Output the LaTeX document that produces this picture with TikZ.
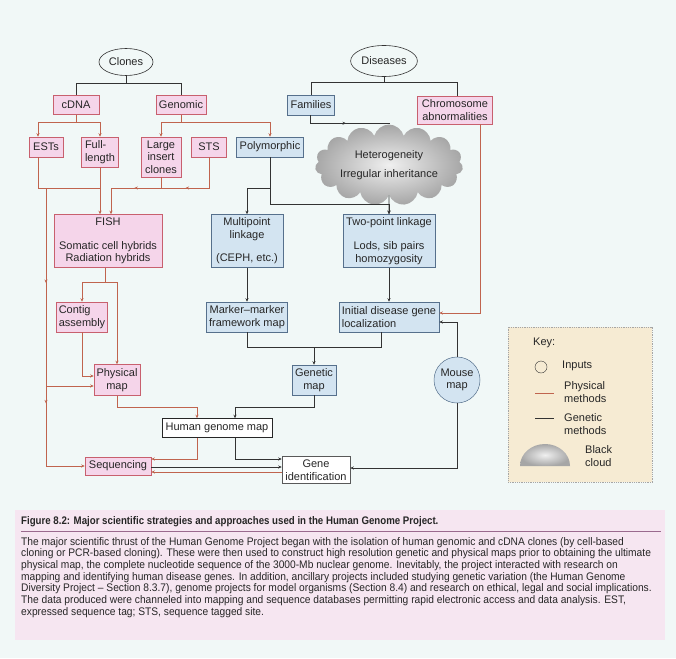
\documentclass[tikz,border=0pt]{standalone}
\usepackage{fontspec}
\setmainfont{Liberation Sans}
\newfontfamily\capfont[FakeStretch=0.93]{Liberation Sans}
\newfontfamily\capttlfont[FakeStretch=0.88]{Liberation Sans}
\usetikzlibrary{arrows.meta,shapes.geometric,shapes.symbols,decorations.markings,calc}
\definecolor{bgcol}{HTML}{F1F8F7}
\definecolor{physfill}{HTML}{F5D5EA}
\definecolor{physdraw}{HTML}{C8606E}
\definecolor{genfill}{HTML}{D3E4F1}
\definecolor{gendraw}{HTML}{56708C}
\definecolor{physred}{HTML}{C0644E}
\definecolor{keyfill}{HTML}{F6EBD3}
\definecolor{capfill}{HTML}{F6E6F1}
\definecolor{caprule}{HTML}{9A6A8E}

\begin{document}
\begin{tikzpicture}[
        x=1pt, y=-1pt,
        >={Stealth[length=3.5pt,width=3pt]},
        every node/.style={font=\fontsize{11}{12.5}\selectfont, text=black!85, inner sep=1pt, align=center},
        physbox/.style={rectangle, draw=physdraw, fill=physfill, line width=0.5pt},
        genbox/.style={rectangle, draw=gendraw, fill=genfill, line width=0.5pt},
        plainbox/.style={rectangle, draw=black!65, fill=white, line width=0.5pt},
        inputnode/.style={ellipse, draw=black!80, line width=0.6pt},
        physline/.style={color=physred, line width=0.6pt},
        genline/.style={color=black!80, line width=0.6pt},
        midarrow/.style={postaction={decorate, decoration={markings, mark=at position #1 with {\arrow{>}}}}}
      ]
      \fill[bgcol] (0,0) rectangle (676,658);
      \useasboundingbox (0,0) rectangle (676,658);

      \node[inputnode, minimum width=54, minimum height=27] (clones) at (126,62) {Clones};
      \node[inputnode, minimum width=60, minimum height=31] (diseases) at (384,61) {Diseases};
      \node[physbox, minimum width=46, minimum height=19] (cdna) at (76,105) {cDNA};
      \node[physbox, minimum width=50, minimum height=19] (genomic) at (181,105) {Genomic};
      \node[genbox, minimum width=47, minimum height=20] (families) at (311,105) {Families};
      \node[physbox, minimum width=75, minimum height=28] (chromo) at (455,110) {Chromosome\\abnormalities};
      \node[physbox, minimum width=34, minimum height=20] (ests) at (46,147) {ESTs};
      \node[physbox, minimum width=37, minimum height=30, align=left] (fulllen) at (100,152) {Full-\\length};
      \node[physbox, minimum width=40, minimum height=40] (large) at (161,157) {Large\\insert\\clones};
      \node[physbox, minimum width=35, minimum height=20] (sts) at (209,147) {STS};
      \node[genbox, minimum width=67, minimum height=20] (poly) at (270,147) {Polymorphic};
      \node[cloud, cloud puffs=15, aspect=2.3, inner sep=0pt, shading=radial, inner color=gray!12,
        outer color=gray!70, minimum width=148, minimum height=62] (hetcloud) at (389,165)
        {Heterogeneity\\[7pt]Irregular inheritance};
      \node[physbox, minimum width=108, minimum height=53] (fish) at (108,241)
        {FISH\\[11pt]Somatic cell hybrids\\Radiation hybrids};
      \node[genbox, minimum width=72, minimum height=53] (multi) at (247,241)
        {Multipoint\\linkage\\[11pt](CEPH, etc.)};
      \node[genbox, minimum width=92, minimum height=53] (twopt) at (389,241)
        {Two-point linkage\\[12pt]Lods, sib pairs\\homozygosity};
      \node[physbox, minimum width=51, minimum height=30, align=left] (contig) at (82,317) {Contig\\assembly};
      \node[genbox, minimum width=81, minimum height=30] (marker) at (247,317) {Marker–marker\\framework map};
      \node[genbox, minimum width=100, minimum height=30, align=left] (initial) at (389,317)
        {Initial disease gene\\localization};
      \node[physbox, minimum width=46, minimum height=31] (physmap) at (117,380) {Physical\\map};
      \node[genbox, minimum width=44, minimum height=30] (genmap) at (314,380) {Genetic\\map};
      \node[genbox, circle, minimum size=46] (mouse) at (457,380) {Mouse\\map};
      \node[plainbox, draw=black!85, minimum width=110, minimum height=19] (hgm) at (217,428) {Human genome map};
      \node[physbox, minimum width=66, minimum height=18] (seq) at (118,466) {Sequencing};
      \node[plainbox, minimum width=68, minimum height=27] (geneid) at (316,470) {Gene\\identification};

      \coordinate (rowa) at (0,188);
      \coordinate (fishin) at ($(fish.north)+(3,0)$);
      \coordinate (pmin) at ($(physmap.west)+(0,6)$);

      \draw[genline] (clones.south) -- ++(0,8) coordinate (clj) -| (cdna.north);
      \draw[genline] (clj) -| (genomic.north);
      \draw[genline] (diseases.south) -- ++(0,6) coordinate (dsj) -| (families.north);
      \draw[genline] (dsj) -| ([xshift=2pt]chromo.north);
      \draw[physline,->] (cdna.south) -- ++(0,8) coordinate (cdj) -| ([xshift=-8pt]ests.north);
      \draw[physline,->] (cdj) -| (fulllen.north);
      \draw[physline,->] (genomic.south) -- ++(0,8) coordinate (gnj) -| (large.north);
      \draw[physline,->] (gnj) -| (poly.north);
      \draw[genline, midarrow=0.5] ([xshift=-1pt]families.south) -- ++(0,8) -| (hetcloud.north);
      \draw[genline,->] (hetcloud.south) -- (twopt.north);
      \draw[genline,->] (poly.south) -- coordinate[pos=0.66] (plj) ++(0,47) -| (twopt.north);
      \draw[genline,->] (plj) -| (multi.north);
      \draw[genline,->] (multi.south) -- (marker.north);
      \draw[genline,->] (twopt.south) -- (initial.north);
      \draw[genline] (marker.south) -- ++(0,15) coordinate (mkj) -| ([xshift=-8pt]initial.south);
      \draw[genline,->] (mkj -| genmap.north) -- (genmap.north);
      \draw[genline,->] (genmap.south) -- ++(0,12) -| ([xshift=18pt]hgm.north);
      \draw[physline,->] (physmap.south) -- ++(0,12) -| ([xshift=-20pt]hgm.north);
      \draw[physline,->] ([xshift=-20pt]hgm.south) |- ([yshift=7pt]seq.east);
      \draw[genline,->] ([xshift=18pt]hgm.south) |- ([yshift=11pt]geneid.west);
      \draw[genline,->] ([yshift=-1pt]seq.east) -- ([yshift=3pt]geneid.west);
      \draw[physline,->] ([yshift=-2pt]geneid.west) -- ([yshift=-6pt]seq.east);
      \draw[genline,->] (mouse.south) |- ([yshift=2pt]geneid.east);
      \draw[genline,->] (mouse.north) |- ([yshift=-5pt]initial.east);
      \draw[physline,->] ([xshift=25pt]chromo.south) |- ([yshift=4pt]initial.east);
      \draw[physline] ([xshift=-8pt]ests.south) |- (fulllen.south |- rowa);
      \draw[physline,->] (fulllen.south) -- (fulllen.south |- fish.north);
      \draw[physline] (large.south) -- (large.south |- rowa);
      \draw[physline,->,midarrow=0.35,midarrow=0.68] (sts.south) -- (sts.south |- rowa) -| (fishin);
      \draw[physline,->,midarrow=0.3,midarrow=0.68] (ests.south |- rowa) |- (seq.west);
      \draw[physline,->] (ests.south |- pmin) -- (pmin);
      \draw[physline,->] ([xshift=-3pt]fish.south) -- ++(0,15) coordinate (fsj) -| (contig.north);
      \draw[physline,->] (fsj) -| (physmap.north);
      \draw[physline,->] (contig.south) |- ([yshift=4pt]physmap.west);

      \node[rectangle, draw=gray!70, densely dotted, line width=0.8pt, fill=keyfill,
        minimum width=144, minimum height=155] (key) at (580,404.5) {};
      \node[anchor=west] (keyttl) at (532,343) {Key:};
      \node[draw=black!80, circle, minimum size=12, inner sep=0pt] (keyin) at (541,367) {};
      \node[anchor=west] (keyintxt) at (561,366) {Inputs};
      \draw[physline] (535,393) -- (554,393);
      \node[anchor=west, align=left] (keyphys) at (563,392) {Physical\\methods};
      \draw[genline] (535,418) -- (554,418);
      \node[anchor=west, align=left] (keygen) at (563,424) {Genetic\\methods};
      \shade[shading=radial, inner color=gray!12, outer color=gray!70]
        (520,466) arc[start angle=180, end angle=360, x radius=25, y radius=22] -- cycle;
      \node[anchor=west, align=left] (keycloud) at (584,456) {Black\\cloud};

      \fill[capfill] (15,510) rectangle (665,640);
      \node[anchor=base west, inner sep=0pt, font=\capttlfont\bfseries\fontsize{11}{12}\selectfont] (capttl)
        at (21,524) {Figure 8.2: Major scientific strategies and approaches used in the Human Genome Project.};
      \draw[caprule, line width=0.7pt] (21,531) -- (661,531);
      \node[anchor=north west, align=left, inner sep=0pt, font=\capfont\fontsize{11}{11.7}\selectfont] (captxt)
        at (21,537) {The major scientific thrust of the Human Genome Project began with the isolation of human genomic and cDNA clones (by cell-based\\
        cloning or PCR-based cloning). These were then used to construct high resolution genetic and physical maps prior to obtaining the ultimate\\
        physical map, the complete nucleotide sequence of the 3000-Mb nuclear genome. Inevitably, the project interacted with research on\\
        mapping and identifying human disease genes. In addition, ancillary projects included studying genetic variation (the Human Genome\\
        Diversity Project – Section 8.3.7), genome projects for model organisms (Section 8.4) and research on ethical, legal and social implications.\\
        The data produced were channeled into mapping and sequence databases permitting rapid electronic access and data analysis. EST,\\
        expressed sequence tag; STS, sequence tagged site.};
    \end{tikzpicture}
\end{document}
